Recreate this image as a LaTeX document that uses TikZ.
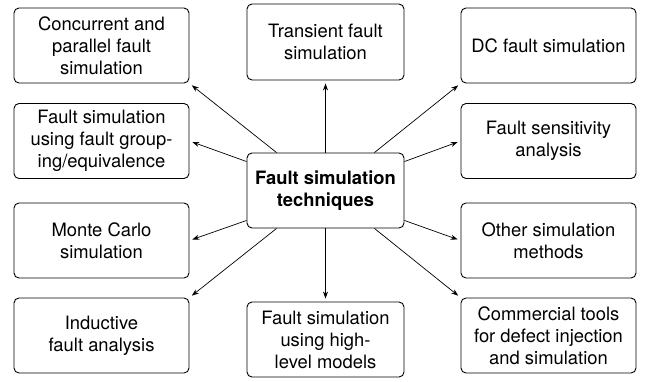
\documentclass[tikz,border=0pt]{standalone}
\usepackage{fontspec}
\setmainfont{TeX Gyre Heros}
\usetikzlibrary{calc,arrows.meta}
\tikzset{
  box/.style={draw, line width=0.9pt, rounded corners=5pt, align=center, inner sep=0pt,
    minimum height=75pt, font=\fontsize{18.4}{22}\selectfont},
  sidebox/.style={box, minimum width=175pt},
  midbox/.style={box, minimum width=157pt},
  conn/.style={-{Stealth[length=7pt,width=5pt]}, line width=0.7pt, shorten >=3pt}
}
\begin{document}
\begin{tikzpicture}[x=1pt,y=-1pt]
\useasboundingbox (0,0) rectangle (648,381);
% left column
\node[sidebox] (l1) at (101.5,45.5) {Concurrent and\\parallel fault\\simulation};
\node[sidebox] (l2) at (101.5,141) {Fault simulation\\using fault group-\\ing/equivalence};
\node[sidebox] (l3) at (101.5,240.5) {Monte Carlo\\simulation};
\node[sidebox] (l4) at (101.5,335.5) {Inductive\\fault analysis};
% right column
\node[sidebox] (r1) at (548.5,45.5) {DC fault simulation};
\node[sidebox] (r2) at (548.5,141) {Fault sensitivity\\analysis};
\node[sidebox] (r3) at (548.5,240.5) {Other simulation\\methods};
\node[sidebox] (r4) at (548.5,335.5) {Commercial tools\\for defect injection\\and simulation};
% middle column
\node[midbox, minimum height=76pt] (t) at (325.5,42) {Transient fault\\simulation};
\node[midbox, font=\fontsize{18.4}{22}\selectfont\bfseries] (c) at (325.5,190.5) {Fault simulation\\techniques};
\node[midbox] (b) at (325.5,339.5) {Fault simulation\\using high-\\level models};
% connectors
\draw[conn] (c.north) -- (t.south);
\draw[conn] (c.south) -- (b.north);
\draw[conn] ($(c.north west)+(30,0)$) -- (l1.south east);
\draw[conn] ($(c.north west)+(0,9)$) -- (l2.east);
\draw[conn] ($(c.south west)+(0,-8)$) -- (l3.east);
\draw[conn] ($(c.south west)+(30,0)$) -- (l4.north east);
\draw[conn] ($(c.north east)+(-30,0)$) -- (r1.south west);
\draw[conn] ($(c.north east)+(0,9)$) -- (r2.west);
\draw[conn] ($(c.south east)+(0,-8)$) -- (r3.west);
\draw[conn] ($(c.south east)+(-30,0)$) -- (r4.north west);
\end{tikzpicture}
\end{document}
